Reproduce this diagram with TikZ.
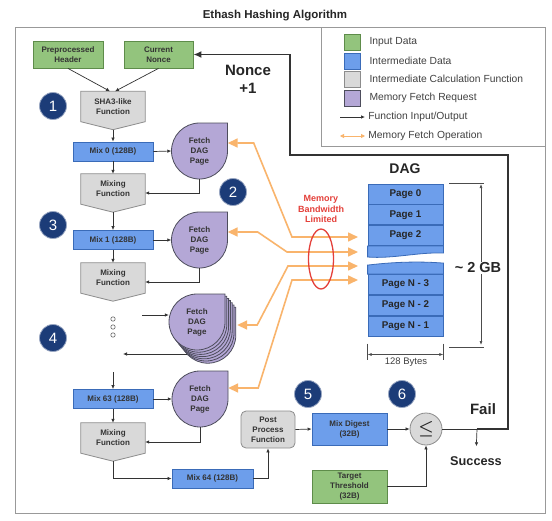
\documentclass[tikz,border=0pt]{standalone}
\usepackage{fontspec}
\setmainfont{Liberation Sans}
\usetikzlibrary{arrows.meta,shapes.geometric,calc,positioning,backgrounds}
\definecolor{ingreen}{HTML}{93C47D}
\definecolor{ingreenline}{HTML}{5E8C4A}
\definecolor{midblue}{HTML}{6D9EEB}
\definecolor{midblueline}{HTML}{3A6BB8}
\definecolor{fngray}{HTML}{D9D9D9}
\definecolor{fngrayline}{HTML}{8C8C8C}
\definecolor{fetchpurple}{HTML}{B4A7D6}
\definecolor{fetchline}{HTML}{4D4D5C}
\definecolor{stepnavy}{HTML}{1C3C78}
\definecolor{memorange}{HTML}{F9B46C}
\definecolor{bwred}{HTML}{E4403A}
\tikzset{
	frame/.style={draw=black!40,line width=1pt},
	boxtext/.style={font=\fontsize{8}{10}\selectfont\bfseries,text=black!80,align=center,inner sep=1pt},
	inbox/.style={boxtext,draw=ingreenline,fill=ingreen,line width=0.8pt},
	midbox/.style={boxtext,draw=midblueline,fill=midblue,line width=0.8pt,minimum width=80pt,minimum height=19pt},
	fnbox/.style={boxtext,minimum width=64pt,minimum height=30pt},
	fnshape/.style={draw=fngrayline,fill=fngray,line width=0.8pt},
	fetchnode/.style={boxtext,circle,minimum size=56pt},
	fetchshape/.style={draw=fetchline,fill=fetchpurple,line width=0.8pt},
	page/.style={draw=midblueline,fill=midblue,line width=0.8pt,minimum width=75pt,minimum height=20pt,inner sep=0pt,text=black!85,font=\fontsize{9.8}{11}\selectfont\bfseries},
	stepnum/.style={circle,fill=stepnavy,draw=stepnavy!45!white,line width=0.8pt,minimum size=27pt,inner sep=0pt,text=white,font=\fontsize{15}{15}\selectfont},
	flow/.style={draw=black!80,line width=0.7pt,-{Latex[length=4pt,width=3.5pt]}},
	feedback/.style={draw=black!80,line width=1.8pt,-{Latex[length=8pt,width=7pt]}},
	memfetch/.style={draw=memorange,line width=1.6pt,{Triangle[length=10pt,width=9pt]}-{Triangle[length=10pt,width=9pt]}},
	legsq/.style={minimum size=16pt,inner sep=0pt,line width=0.8pt},
	legtxt/.style={font=\fontsize{10.3}{12}\selectfont,text=black!75,inner sep=1pt,anchor=west},
	bigtext/.style={font=\fontsize{15}{18}\selectfont\bfseries,text=black!85,align=center,inner sep=1pt},
	dim/.style={draw=black!70,line width=0.6pt},
}
\begin{document}
\begin{tikzpicture}[x=1pt,y=-1pt]
	\begin{scope}[on background layer]
		\path[use as bounding box,fill=white] (0,0) rectangle (552,520);
	\end{scope}
	\node (title) at (275,16) [font=\fontsize{11.5}{13}\selectfont\bfseries,text=black!85] {Ethash Hashing Algorithm};
	\draw[frame] (15,27) rectangle (545,513);
	% legend
	\draw[frame] (321,27) rectangle (545,146);
	\node (lgin) at (352,42) [legsq,draw=ingreenline,fill=ingreen] {};
	\node (lgmid) at (352,61) [legsq,draw=midblueline,fill=midblue] {};
	\node (lgfn) at (352,79) [legsq,draw=fngrayline,fill=fngray] {};
	\node (lgfetch) at (352,98) [legsq,draw=fetchline,fill=fetchpurple] {};
	\node (lgintxt) [legtxt,right=8pt of lgin] {Input Data};
	\node (lgmidtxt) [legtxt,right=8pt of lgmid] {Intermediate Data};
	\node (lgfntxt) [legtxt,right=8pt of lgfn] {Intermediate Calculation Function};
	\node (lgfetchtxt) [legtxt,right=8pt of lgfetch] {Memory Fetch Request};
	\coordinate (lgio) at (340,117);
	\coordinate (lgmem) at (340,136);
	\draw[flow] (lgio) -- ++(25,0) node (lgiotxt) [legtxt,xshift=2pt] {Function Input/Output};
	\draw[memfetch,line width=0.8pt,{Triangle[length=4pt,width=4pt]}-{Triangle[length=4pt,width=4pt]}] (lgmem) -- ++(25,0) node (lgmemtxt) [legtxt,xshift=2pt] {Memory Fetch Operation};
	% inputs and mixing chain
	\node (hdr) at (68,54.5) [inbox,minimum width=70pt,minimum height=27pt] {Preprocessed\\Header};
	\node (nonce) at (158.5,54.5) [inbox,minimum width=69pt,minimum height=27pt] {Current\\Nonce};
	\node (sha) at (113,106.5) [fnbox] {SHA3-like\\Function};
	\node (mix0) at (113,151.5) [midbox] {Mix 0 (128B)};
	\node (f1) at (199.5,151) [fetchnode] {Fetch\\DAG\\Page};
	\node (mixa) at (113,189) [fnbox] {Mixing\\Function};
	\node (mix1) at (113,240) [midbox] {Mix 1 (128B)};
	\node (f2) at (199.5,240) [fetchnode] {Fetch\\DAG\\Page};
	\node (mixb) at (113,278) [fnbox] {Mixing\\Function};
	\node (fs) at (197,322) [fetchnode] {Fetch\\DAG\\Page};
	\node (mix63) at (113,399) [midbox] {Mix 63 (128B)};
	\node (f63) at (200,399) [fetchnode] {Fetch\\DAG\\Page};
	\node (mixc) at (113,438) [fnbox] {Mixing\\Function};
	\node (mix64) at (212.5,478.5) [midbox,minimum width=81pt] {Mix 64 (128B)};
	\node (post) at (268,429.5) [boxtext,draw=fngrayline,fill=fngray,rounded corners=5pt,line width=0.8pt,minimum width=54pt,minimum height=37pt] {Post\\Process\\Function};
	\node (digest) at (349.5,429) [midbox,minimum width=75pt,minimum height=32pt] {Mix Digest\\(32B)};
	\node (thr) at (349.5,486.5) [inbox,minimum width=75pt,minimum height=33pt] {Target\\Threshold\\(32B)};
	\node (cmp) at (426,429) [circle,draw=fngrayline,fill=fngray,line width=0.8pt,minimum size=32pt,inner sep=0pt,text=black!85,font=\fontsize{16}{16}\selectfont\boldmath] {$\leq$};
	\coordinate (dotsin) at (142,315);
	\coordinate (stackout) at (200,354);
	\coordinate (mixout) at (123,354);
	\coordinate (mix63in) at (113,372);
	\begin{scope}[on background layer]
		\foreach \n in {sha,mixa,mixb,mixc}
			\draw[fnshape] (\n.north west) -- (\n.north east) -- (\n.south east) -- ([yshift=-8pt]\n.south) -- (\n.south west) -- cycle;
		\foreach \n in {f1,f2,f63}
			\draw[fetchshape] ($(\n.center)+(0,-28)$) -- ++(28,0) -- ++(0,28) arc[start angle=0,end angle=-270,radius=28pt] -- cycle;
		\draw[flow] (stackout) -- (mixout);
		\foreach \k in {6,5,...,0}
			\draw[fetchshape] ($(fs.center)+(1.8*\k,2.2*\k-28)$) -- ++(28,0) -- ++(0,28) arc[start angle=0,end angle=-270,radius=28pt] -- cycle;
	\end{scope}
	\foreach \y in {319,327,335}
		\draw[black!60,line width=0.6pt] (113,\y) circle[radius=2.2pt];
	% steps
	\node (s1) at (53,106) [stepnum] {1};
	\node (s2) at (233,192) [stepnum] {2};
	\node (s3) at (53,225) [stepnum] {3};
	\node (s4) at (53,338) [stepnum] {4};
	\node (s5) at (308,394) [stepnum] {5};
	\node (s6) at (402,394) [stepnum] {6};
	% connectors
	\draw[flow] (hdr.south) -- ([xshift=-3pt]sha.north);
	\draw[flow] (nonce.south) -- ([xshift=2pt]sha.north);
	\draw[flow] ([yshift=-8pt]sha.south) -- (mix0.north);
	\draw[flow] (mix0.east) -- (f1.west);
	\draw[flow] (f1.south) |- ([yshift=-4pt]mixa.east);
	\draw[flow] (mix0.south) -- (mixa.north);
	\draw[flow] ([yshift=-8pt]mixa.south) -- (mix1.north);
	\draw[flow] (mix1.east) -- (f2.west);
	\draw[flow] (f2.south) |- ([yshift=-4pt]mixb.east);
	\draw[flow] (mix1.south) -- (mixb.north);
	\draw[flow] (dotsin) -- ([yshift=7pt]fs.west);
	\draw[flow] (mix63in) -- (mix63.north);
	\draw[flow] (mix63.east) -- (f63.west);
	\draw[flow] (f63.south) |- ([yshift=-4pt]mixc.east);
	\draw[flow] (mix63.south) -- (mixc.north);
	\draw[flow] ([yshift=-8pt]mixc.south) |- (mix64.west);
	\draw[flow] (mix64.east) -| (post.south);
	\draw[flow] (post.east) -- (digest.west);
	\draw[flow] (digest.east) -- (cmp.west);
	\draw[flow] (thr.east) -| (cmp.south);
	% result and feedback
	\node (noncetxt) at (248,79) [bigtext] {Nonce\\+1};
	\node (fail) at (483,409) [bigtext] {Fail};
	\node (success) at (476,461) [bigtext,font=\fontsize{12.7}{14}\selectfont\bfseries] {Success};
	\coordinate (jn) at (477,429);
	\coordinate (fbtop) at (508,155);
	\coordinate (fbleft) at (290,155);
	\draw[draw=black!80,line width=0.7pt] (cmp.east) -- (jn);
	\draw[flow,shorten >=9pt] (jn) -- (success.north);
	\draw[feedback] (jn) -| (fbtop) -- (fbleft) |- (nonce.east);
	% DAG
	\node (dag) at (405,169) [bigtext,font=\fontsize{14}{16}\selectfont\bfseries] {DAG};
	\node (pg0) at (405.5,194) [page] {Page 0};
	\node (pg1) [page,below=0pt of pg0] {Page 1};
	\node (pg2) [page,below=0pt of pg1] {Page 2};
	\draw[draw=midblueline,fill=midblue,line width=0.8pt] (pg2.south west) -- ++(0,11) .. controls +(25,2) and +(-25,-1) .. ($(pg2.south east)+(0,7)$) -- (pg2.south east) -- cycle;
	\node (pgN3) at (405.5,284.5) [page] {Page N - 3};
	\node (pgN2) [page,below=0pt of pgN3] {Page N - 2};
	\node (pgN1) [page,below=0pt of pgN2] {Page N - 1};
	\draw[draw=midblueline,fill=midblue,line width=0.8pt] (pgN3.north west) -- ++(0,-9) .. controls +(25,-3) and +(-25,-2) .. ($(pgN3.north east)+(0,-11)$) -- (pgN3.north east) -- cycle;
	\node (gb) at (478,268) [bigtext,font=\fontsize{14.5}{16}\selectfont\bfseries] {\textasciitilde\ 2 GB};
	\coordinate (gbtop) at (481,184);
	\coordinate (gbbot) at (481,345);
	\draw[dim] ([xshift=6pt]pg0.north east) -- ++(35,0);
	\draw[dim] ([xshift=6pt,yshift=-11pt]pgN1.south east) -- ++(35,0);
	\draw[dim,-{Latex[length=4pt,width=3pt]}] (gbtop |- gb.north) -- (gbtop);
	\draw[dim,-{Latex[length=4pt,width=3pt]}] (gbbot |- gb.south) -- (gbbot);
	\draw[dim] ([yshift=-7pt]pgN1.south west) -- ++(0,16);
	\draw[dim] ([yshift=-7pt]pgN1.south east) -- ++(0,16);
	\node (bytes) at (406,362) [font=\fontsize{9.5}{11}\selectfont,text=black!75,inner sep=1pt] {128 Bytes};
	\draw[dim,{Latex[length=4pt,width=3pt]}-{Latex[length=4pt,width=3pt]}] ([yshift=-18pt]pgN1.south west) -- ([yshift=-18pt]pgN1.south east);
	% memory fetches
	\coordinate (in1) at (358,237);
	\coordinate (in2) at (358,252);
	\coordinate (in3) at (358,266);
	\coordinate (in4) at (358,280);
	\draw[memfetch] ([yshift=8pt]f1.east) -- ++(26,0) -- (292,237) -- (in1);
	\draw[memfetch] ([yshift=8pt]f2.east) -- ++(30,0) -- (287,252) -- (in2);
	\draw[memfetch] ([xshift=12pt,yshift=-3pt]fs.east) -- ++(20,0) -- (288,266) -- (in3);
	\draw[memfetch] ([yshift=11pt]f63.east) -- ++(30,0) -- (292,280) -- (in4);
	\node (bwtxt) at (321,209) [align=center,text=bwred,inner sep=1pt,font=\fontsize{9}{10.5}\selectfont\bfseries] {Memory\\Bandwidth\\Limited};
	\node (bw) at (321,259) [ellipse,draw=bwred,line width=1.3pt,minimum width=25pt,minimum height=60pt,inner sep=0pt] {};
\end{tikzpicture}
\end{document}
